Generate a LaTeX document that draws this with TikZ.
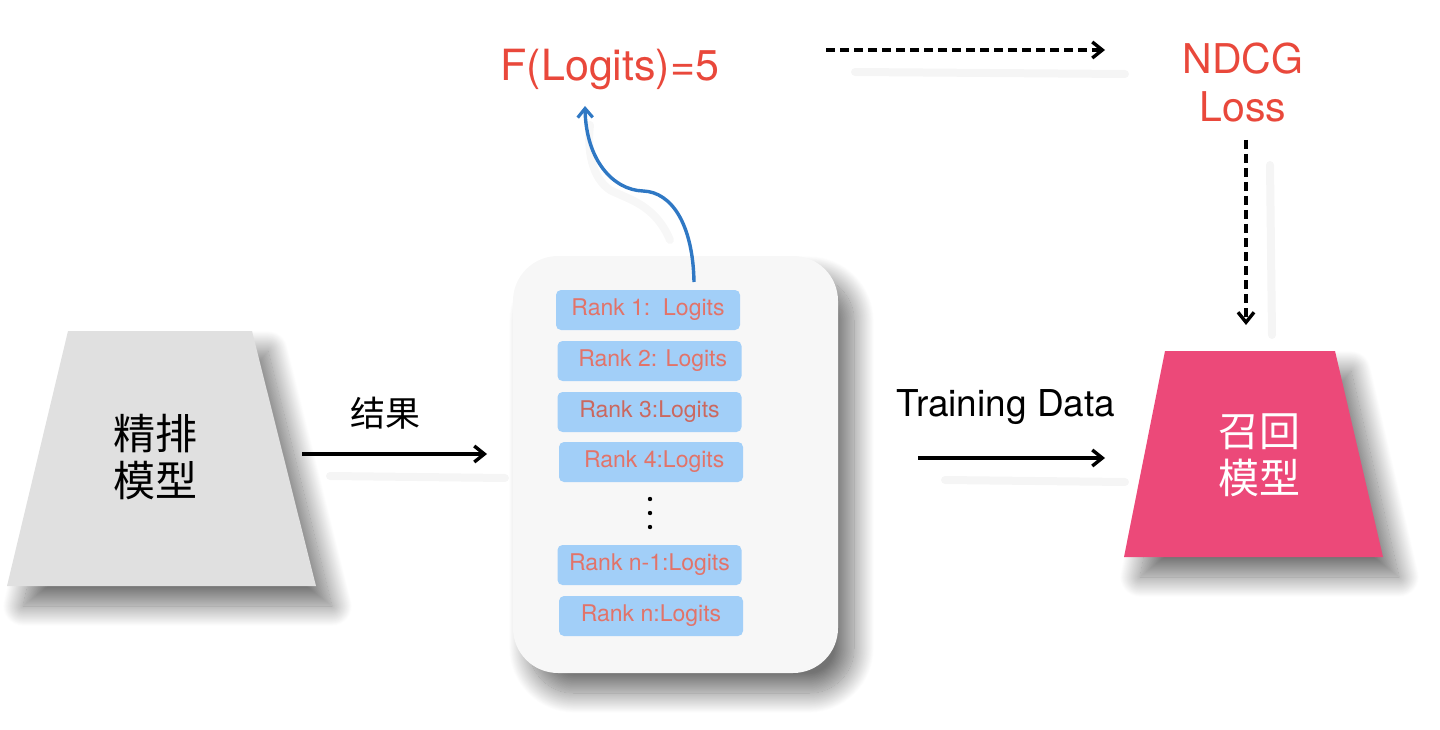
\documentclass[tikz,border=0pt]{standalone}
\usepackage{fontspec}
\setmainfont{TeX Gyre Heros}
\newfontfamily\cjk{Noto Sans CJK SC}
\usetikzlibrary{shadows.blur,arrows.meta}
\definecolor{lgray}{HTML}{E0E0E0}
\definecolor{boxbg}{HTML}{F7F7F7}
\definecolor{rowblue}{HTML}{A2CFF8}
\definecolor{rowtxt}{HTML}{E27369}
\definecolor{redtxt}{HTML}{E9483B}
\definecolor{pinkfill}{HTML}{EC4979}
\definecolor{curveblue}{HTML}{2F78C4}
\tikzset{
  rowbox/.style={fill=rowblue, rounded corners=5pt, minimum width=184pt, minimum height=40pt, inner sep=0pt, text=rowtxt, font=\fontsize{23}{26}\selectfont},
  arr/.style={line width=3.6pt, -{Straight Barb[length=10pt,width=16pt,line width=3.4pt]}},
  darr/.style={arr, dash pattern=on 9pt off 5pt},
  shad/.style={line width=8pt, black!4, line cap=round},
  redlabel/.style={text=redtxt, font=\fontsize{43}{48}\selectfont, inner sep=0pt},
  mshadow/.style={blur shadow={shadow xshift=16pt, shadow yshift=-20pt, shadow blur radius=20pt, shadow blur steps=30, shadow opacity=55}},
}
\begin{document}
\begin{tikzpicture}[x=1pt,y=-1pt]
\useasboundingbox (0,0) rectangle (1440,730);
% left trapezoid
\path[fill=lgray, mshadow] (68,331) -- (252,331) -- (316,586) -- (7,586) -- cycle;
\node[align=center, font=\cjk\fontsize{42}{47}\selectfont, inner sep=0pt] (fine) at (155,457) {精排\\模型};
% right trapezoid
\path[fill=pinkfill, mshadow] (1165,351) -- (1335,351) -- (1383,557) -- (1124,557) -- cycle;
\node[align=center, text=white, font=\cjk\fontsize{41}{47}\selectfont, inner sep=0pt] (recall) at (1259,455) {召回\\模型};
% big rounded box
\path[fill=boxbg, rounded corners=45pt, mshadow] (513,256) rectangle (838,673);
% rows
\node[rowbox] (r1) at (648,310) {Rank 1:\ \ Logits};
\node[rowbox] (r2) at (649.5,361) {\ Rank 2: Logits};
\node[rowbox, text=rowtxt!90!black] (r3) at (649.5,412) {Rank 3:Logits};
\node[rowbox] (r4) at (651,462) {\ Rank 4:Logits};
\node[rowbox] (rn1) at (649.5,565) {Rank n-1:Logits};
\node[rowbox] (rn) at (651,616) {Rank n:Logits};
\foreach \yy in {499,513,527} \fill (650,\yy) circle (2.2pt);
% top labels
\node[redlabel] (flog) at (610,70) {F(Logits)=5};
\node[redlabel, font=\fontsize{41}{48}\selectfont, align=center] (ndcg) at (1243,82) {NDCG\\Loss};
% curved blue arrow
\coordinate (cs) at (694,282);
\coordinate (ce) at (585,106);
\draw[black!3, line width=8pt, line cap=round] (670,240) .. controls (655,205) and (630,200) .. (610,190) .. controls (592,178) and (587,150) .. (590,125);
\draw[curveblue, line width=3.4pt, -{Straight Barb[length=9pt,width=15pt,line width=3.2pt]}] (cs) .. controls (693,225) and (672,192) .. (643,191) .. controls (613,190) and (586,160) .. (ce);
% arrow 1
\coordinate (a1s) at (302,454);
\coordinate (a1e) at (487,454);
\draw[shad] (330,476) -- (505,478);
\draw[arr] (a1s) -- (a1e);
\node[font=\cjk\fontsize{35}{40}\selectfont, inner sep=0pt] (jg) at (385,413) {结果};
% training arrow
\coordinate (a2s) at (918,458);
\coordinate (a2e) at (1105,458);
\draw[shad] (945,480) -- (1125,482);
\draw[arr] (a2s) -- (a2e);
\node[font=\fontsize{37}{40}\selectfont, inner sep=0pt] (td) at (1006,407) {Training Data};
% dashed top arrow
\coordinate (a3s) at (826,50);
\coordinate (a3e) at (1105,50);
\draw[shad] (855,72) -- (1125,74);
\draw[darr] (a3s) -- (a3e);
% dashed down arrow
\coordinate (a4s) at (1246,140);
\coordinate (a4e) at (1246,325);
\draw[shad] (1270,165) -- (1272,335);
\draw[darr] (a4s) -- (a4e);
\end{tikzpicture}
\end{document}
